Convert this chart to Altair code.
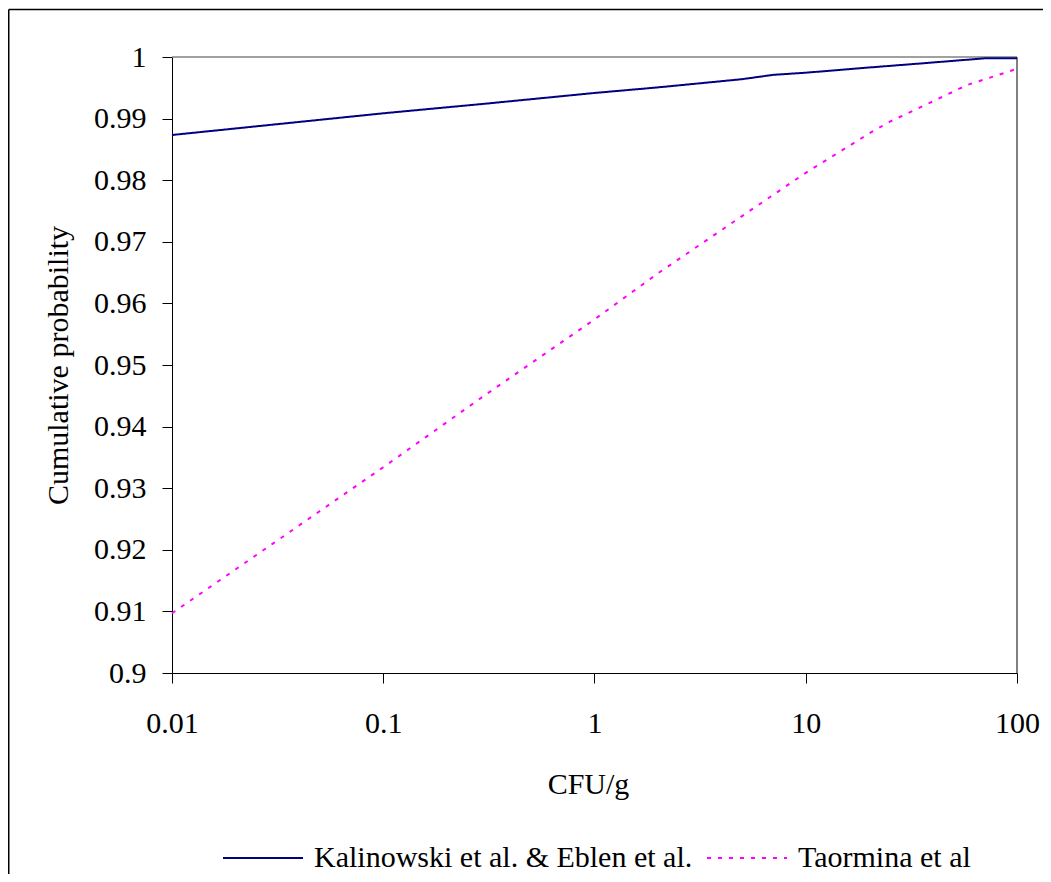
import altair as alt
import pandas as pd

series_names = ["Kalinowski et al. & Eblen et al.", "Taormina et al"]

kal_x = [0.01, 0.1, 0.3, 1, 2, 5, 7, 10, 20, 35, 70, 100]
kal_y = [0.98734, 0.99086, 0.99240, 0.99416, 0.99507, 0.99640, 0.99710,
         0.99745, 0.99830, 0.99895, 0.99978, 0.99978]

tao_x = [0.01, 0.03, 0.1, 0.3, 1, 2, 7, 10, 20, 25, 40, 58, 93, 100]
tao_y = [0.9097, 0.9210, 0.9334, 0.9450, 0.9574, 0.9649, 0.9776, 0.9812,
         0.9876, 0.9895, 0.9928, 0.99545, 0.99773, 0.9981]

x_ticks = [0.01, 0.1, 1, 10, 100]
y_ticks = [0.9, 0.91, 0.92, 0.93, 0.94, 0.95, 0.96, 0.97, 0.98, 0.99, 1.0]

rows = []
for x, y in zip(kal_x, kal_y):
    rows.append({"cfu": x, "prob": y, "series": series_names[0]})
for x, y in zip(tao_x, tao_y):
    rows.append({"cfu": x, "prob": y, "series": series_names[1]})
df = pd.DataFrame(rows)

FONT = "Liberation Serif"

lines = alt.Chart(df).mark_line(strokeWidth=2).encode(
    x=alt.X("cfu:Q",
            scale=alt.Scale(type="log", domain=[0.01, 100], nice=False),
            axis=alt.Axis(values=x_ticks, format="~g", title="CFU/g",
                          grid=False, tickSize=10, labelPadding=25,
                          labelFlush=False,
                          titleX=416, titleY=120, titleBaseline="alphabetic")),
    y=alt.Y("prob:Q",
            scale=alt.Scale(domain=[0.9, 1.0], nice=False, zero=False),
            axis=alt.Axis(values=y_ticks, format=".2~f",
                          title="Cumulative probability",
                          grid=False, tickSize=10, labelPadding=16,
                          labelFlush=False,
                          titleAngle=270, titleX=-105, titleY=308,
                          titleBaseline="alphabetic")),
    color=alt.Color("series:N",
                    scale=alt.Scale(domain=series_names,
                                    range=["#000080", "#FF00FF"]),
                    legend=alt.Legend(title=None)),
    strokeDash=alt.StrokeDash("series:N",
                              scale=alt.Scale(domain=series_names,
                                              range=[[1, 0], [4, 7]]),
                              legend=alt.Legend(title=None)),
)

frame_df = pd.DataFrame({"k": [0]})
outer_left = alt.Chart(frame_df).mark_rule(color="#000000", strokeWidth=1.5).encode(
    x=alt.value(-163.25), y=alt.value(-47.5), y2=alt.value(900))
outer_top = alt.Chart(frame_df).mark_rule(color="#000000", strokeWidth=1.5).encode(
    x=alt.value(-163.25), x2=alt.value(900), y=alt.value(-47.5))
plot_top = alt.Chart(frame_df).mark_rule(color="#808080", strokeWidth=1.5).encode(
    x=alt.value(0), x2=alt.value("width"), y=alt.value(0))
plot_right = alt.Chart(frame_df).mark_rule(color="#808080", strokeWidth=2).encode(
    x=alt.value("width"), y=alt.value(0), y2=alt.value("height"))

chart = alt.layer(outer_left, outer_top, plot_top, plot_right, lines).properties(
    width=845, height=616,
    autosize=alt.AutoSizeParams(type="none"),
    padding={"left": 164, "top": 49, "right": 26, "bottom": 201},
    background="white",
).configure_view(strokeWidth=0).configure_axis(
    labelFont=FONT, labelFontSize=30, labelColor="#000000",
    titleFont=FONT, titleFontSize=30, titleColor="#000000", titleFontWeight="normal",
    domainColor="#000000", domainWidth=1, tickColor="#000000", tickWidth=1,
).configure_legend(
    orient="none", legendX=50, legendY=760, direction="horizontal",
    symbolType="stroke", symbolSize=6400, symbolStrokeWidth=2,
    labelFont=FONT, labelFontSize=30, labelColor="#000000",
    labelOffset=10, columnPadding=10, padding=0, labelLimit=600,
)

chart.save("out.html", embed_options={"renderer": "svg", "actions": False})
